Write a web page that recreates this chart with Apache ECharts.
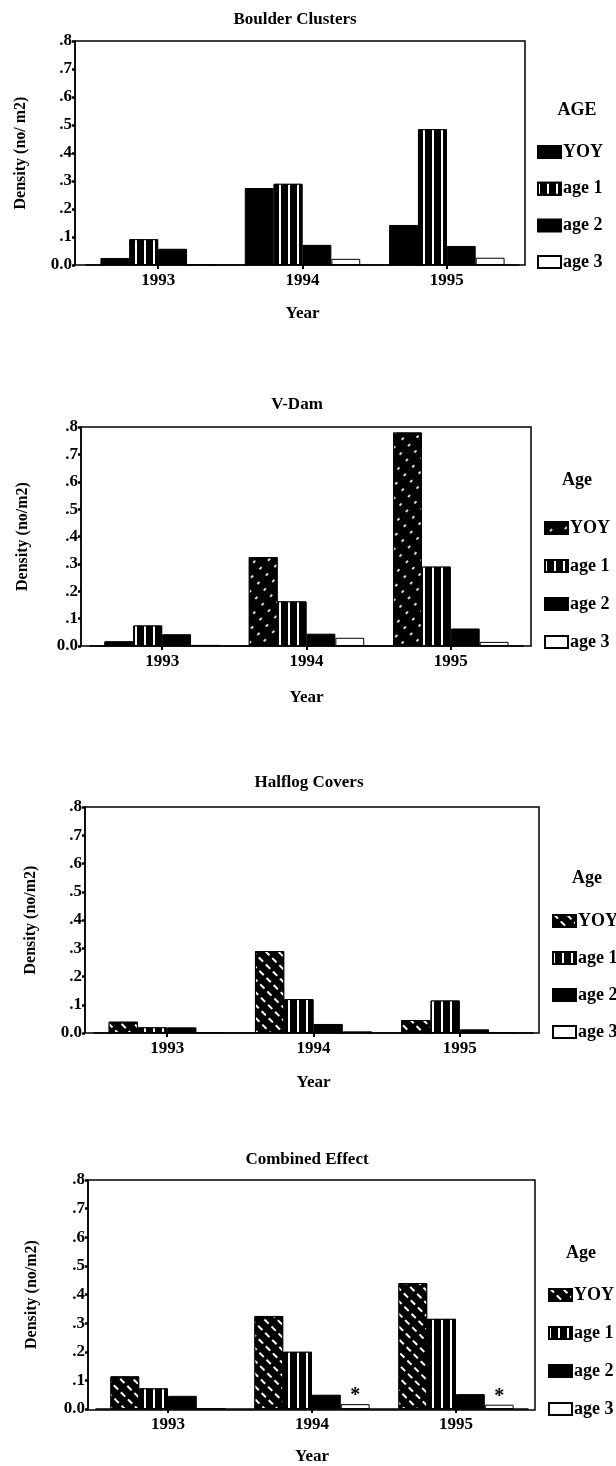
<!DOCTYPE html>
<html>
<head>
<meta charset="utf-8">
<script src="https://cdn.jsdelivr.net/npm/echarts@6/dist/echarts.min.js"></script>
<style>html,body{margin:0;padding:0;background:#fff}#c{width:616px;height:1466px}</style>
</head>
<body>
<div id="c"></div>
<script>
// ---------------- data ----------------
const categories = ['1993', '1994', '1995'];
const ageNames = ['YOY', 'age 1', 'age 2', 'age 3'];
const yTickLabels = ['0.0', '.1', '.2', '.3', '.4', '.5', '.6', '.7', '.8'];
const panelTitles = ['Boulder Clusters', 'V-Dam', 'Halflog Covers', 'Combined Effect'];
const legendTitles = ['AGE', 'Age', 'Age', 'Age'];
const yAxisTitles = ['Density (no/ m2)', 'Density (no/m2)', 'Density (no/m2)', 'Density (no/m2)'];
const xAxisTitle = 'Year';

const boulderYOY  = [0.025, 0.275, 0.143];
const boulderAge1 = [0.092, 0.290, 0.485];
const boulderAge2 = [0.058, 0.072, 0.068];
const boulderAge3 = [0.003, 0.022, 0.026];

const vdamYOY  = [0.017, 0.325, 0.780];
const vdamAge1 = [0.075, 0.163, 0.290];
const vdamAge2 = [0.043, 0.045, 0.064];
const vdamAge3 = [0.004, 0.030, 0.015];

const halflogYOY  = [0.040, 0.290, 0.046];
const halflogAge1 = [0.020, 0.120, 0.115];
const halflogAge2 = [0.020, 0.032, 0.013];
const halflogAge3 = [0.003, 0.006, 0.003];

const combinedYOY  = [0.114, 0.325, 0.440];
const combinedAge1 = [0.072, 0.200, 0.315];
const combinedAge2 = [0.046, 0.050, 0.052];
const combinedAge3 = [0.003, 0.017, 0.015];
const combinedAge3Marks = ['', '*', '*'];

const panelData = [
  [boulderYOY, boulderAge1, boulderAge2, boulderAge3],
  [vdamYOY, vdamAge1, vdamAge2, vdamAge3],
  [halflogYOY, halflogAge1, halflogAge2, halflogAge3],
  [combinedYOY, combinedAge1, combinedAge2, combinedAge3]
];

// ---------------- layout / style ----------------
const L = [
  {boxL: 75, boxR: 525, gL: 86, gR: 519, y8: 41,   y0: 265,  tX: 295, tY: 20,   yNX: 20, lTX: 577, lTY: 110,  lL: 532, lF: 147,  lS: 36.7, xNY: 314},
  {boxL: 81, boxR: 531, gL: 90, gR: 523, y8: 427,  y0: 646,  tX: 297, tY: 405,  yNX: 22, lTX: 577, lTY: 480,  lL: 539, lF: 523,  lS: 38,   xNY: 698},
  {boxL: 85, boxR: 539, gL: 94, gR: 533, y8: 807,  y0: 1033, tX: 309, tY: 783,  yNX: 30, lTX: 587, lTY: 878,  lL: 547, lF: 916,  lS: 37,   xNY: 1083},
  {boxL: 88, boxR: 535, gL: 96, gR: 528, y8: 1180, y0: 1410, tX: 307, tY: 1160, yNX: 31, lTX: 581, lTY: 1253, lL: 543, lF: 1290, lS: 38,   xNY: 1458}
];
const FONT = 'Liberation Serif';
const txt = (size) => ({fontFamily: FONT, fontWeight: 'bold', fontSize: size, color: '#000'});

const stripeDecal = {symbol: 'rect', color: '#fff', dashArrayX: [1.5, 7], dashArrayY: [10, 0], symbolSize: 1, rotation: 0};
const speckDecal  = {symbol: 'rect', color: 'rgba(255,255,255,0.85)', dashArrayX: [1.2, 7], dashArrayY: [3, 9], symbolSize: 1, rotation: Math.PI / 4};
const hatchDecal  = {symbol: 'rect', color: '#fff', dashArrayX: [1.5, 7], dashArrayY: [6, 4], symbolSize: 1, rotation: -Math.PI / 4};
const yoyDecals = [null, speckDecal, hatchDecal, hatchDecal];

function itemStyleFor(p, k) {
  const s = {color: '#000', borderColor: '#000', borderWidth: 1};
  if (k === 0 && yoyDecals[p]) s.decal = yoyDecals[p];
  if (k === 1) s.decal = stripeDecal;
  if (k === 3) s.color = '#fff';
  return s;
}

const grid = [], xAxis = [], yAxis = [], series = [], legend = [], graphic = [];
L.forEach((l, p) => {
  grid.push({left: l.gL, top: l.y8, width: l.gR - l.gL, height: l.y0 - l.y8, containLabel: false});
  xAxis.push({
    type: 'category', gridIndex: p, data: categories,
    axisLine: {show: true, lineStyle: {color: '#000', width: 1.5}},
    axisTick: {show: true, alignWithLabel: true, length: 4, lineStyle: {color: '#000', width: 2}},
    axisLabel: Object.assign({margin: 7}, txt(17)),
    name: xAxisTitle, nameLocation: 'middle', nameGap: l.xNY - l.y0 - 9,
    nameTextStyle: txt(17)
  });
  yAxis.push({
    type: 'value', gridIndex: p, min: 0, max: 0.8, interval: 0.1,
    offset: l.gL - l.boxL,
    splitLine: {show: false},
    axisLine: {show: true, lineStyle: {color: '#000', width: 1.5}},
    axisTick: {show: true, length: 3, lineStyle: {color: '#000', width: 2.5}},
    axisLabel: Object.assign({margin: 3, formatter: v => yTickLabels[Math.round(v * 10)]}, txt(17)),
    name: yAxisTitles[p], nameLocation: 'middle', nameGap: l.boxL - l.yNX - 9,
    nameTextStyle: txt(16)
  });
  ageNames.forEach((n, k) => {
    const s = {
      type: 'bar', name: n + ' '.repeat(p), xAxisIndex: p, yAxisIndex: p,
      data: panelData[p][k], barGap: '0%', barCategoryGap: '20%',
      itemStyle: itemStyleFor(p, k), emphasis: {disabled: true}, animation: false
    };
    if (p === 3 && k === 3) {
      s.label = {show: true, position: 'top', distance: -2, formatter: q => combinedAge3Marks[q.dataIndex],
                 fontFamily: FONT, fontWeight: 'bold', fontSize: 20, color: '#000'};
    }
    series.push(s);
  });
  legend.push({
    data: ageNames.map(n => n + ' '.repeat(p)), orient: 'vertical', left: l.lL, top: l.lF - 10,
    itemWidth: 23, itemHeight: 12, itemGap: l.lS - 20, icon: 'rect', selectedMode: false,
    formatter: n => n.trim(), textStyle: Object.assign({lineHeight: 20, padding: [0, 0, 0, -3]}, txt(18))
  });
  graphic.push({type: 'rect', silent: true, z: 10,
    shape: {x: l.boxL, y: l.y8, width: l.boxR - l.boxL, height: l.y0 - l.y8},
    style: {fill: 'none', stroke: '#000', lineWidth: 1.5}});
  graphic.push({type: 'text', silent: true, x: l.tX, y: l.tY,
    style: {text: panelTitles[p], textAlign: 'center', textVerticalAlign: 'middle', font: 'bold 17px "' + FONT + '"', fill: '#000'}});
  graphic.push({type: 'text', silent: true, x: l.lTX, y: l.lTY,
    style: {text: legendTitles[p], textAlign: 'center', textVerticalAlign: 'middle', font: 'bold 18px "' + FONT + '"', fill: '#000'}});
});

const chart = echarts.init(document.getElementById('c'), null, {renderer: 'canvas'});
chart.setOption({animation: false, backgroundColor: '#fff', grid, xAxis, yAxis, series, legend, graphic});
</script>
</body>
</html>
